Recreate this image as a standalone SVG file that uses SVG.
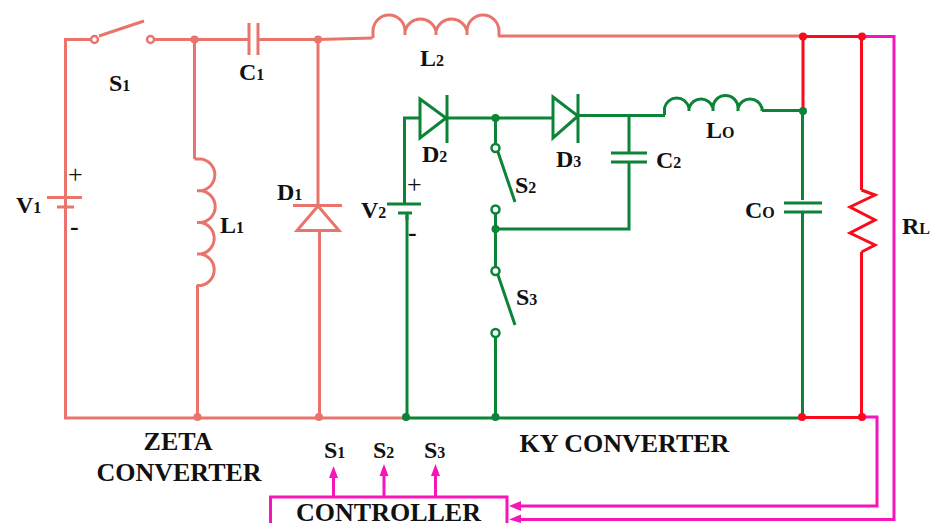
<svg xmlns="http://www.w3.org/2000/svg" width="932" height="523" viewBox="0 0 932 523">
<style>
text{font-family:"Liberation Serif","Times New Roman",serif;font-weight:bold;fill:#111}
.lb{font-size:24px}.sub{font-size:16px}.hd{font-size:26px}.pl{font-size:26px;font-weight:normal}
.w{fill:none;stroke-width:3;stroke-linejoin:miter}
.z{stroke:#e8746c}.g{stroke:#0b8437}.r{stroke:#fb0a1c}.m{stroke:#f515b8}
.zf{fill:#e8746c}.gf{fill:#0b8437}.rf{fill:#fb0a1c}.mf{fill:#f515b8}
.o{fill:#fff;stroke-width:2.5}
</style>
<rect width="932" height="523" fill="#fff"/>
<g id="connectors">
<path class="w z" d="M91 39.500H65.500V418H405M155 39.500H249M258 39.500H318L372.500 38M194.500 39.500V159M318 39V205M319.500 231V418M197.500 285V418M498 36H803"/>
<path class="w z" d="M99 36L144 21"/>
<path class="w g" d="M406 418H802M404.500 192V118H420M447 118H552M579 115.500H665M495.500 118V144M495.500 214V267M495.500 338V418M407 215V418M629 115V152M629 163V229H495M762 110.500H804M802.500 111V200M802.500 212V416"/>
<path class="w r" d="M803 36.500H862M803 37V111M802 417.500H862M861.500 37V190M861.500 252V417"/>
<path class="w m" d="M862 36.500H894V519.500H519M862 417H877V506H519"/>
</g>
<g id="V1"><path class="w z" d="M47 197.500H82M57 207H74M65.500 207V230"/>
<text x="68" y="183" class="pl">+</text><text x="70" y="235" class="pl" style="font-weight:bold">-</text>
<text x="16" y="213" class="lb">V<tspan class="sub">1</tspan></text></g>
<g id="S1"><circle class="o z" cx="94.500" cy="39.500" r="3.500"/><circle class="o z" cx="150.500" cy="39.500" r="3.500"/><text x="109" y="91" class="lb">S<tspan class="sub">1</tspan></text></g>
<g id="C1"><path class="w z" d="M249 23V55M258 23V55"/><text x="239" y="80" class="lb">C<tspan class="sub">1</tspan></text></g>
<g id="L1"><path class="w z" d="M194.500 159H201A16 16 0 0 1 201 190.700H197H201A16 16 0 0 1 201 222.500H197H201A16 16 0 0 1 201 254H197H201A16 16 0 0 1 201 285.500H197"/><text x="220" y="233" class="lb">L<tspan class="sub">1</tspan></text></g>
<g id="D1"><path class="w z" d="M293 205.500H342M318 206L297 230.500H339Z"/><text x="277" y="200" class="lb">D<tspan class="sub">1</tspan></text></g>
<g id="L2"><path class="w z" d="M373 38V31A16 16 0 0 1 405 31V35V31A16 16 0 0 1 436 31V35V31A16 16 0 0 1 467 31V35V31A16 16 0 0 1 499 31V36"/><text x="420" y="66" class="lb">L<tspan class="sub">2</tspan></text></g>
<g id="D2"><path class="w g" d="M420 99L446 118L420 138ZM447 95V143"/><text x="422" y="162" class="lb">D<tspan class="sub">2</tspan></text></g>
<g id="D3"><path class="w g" d="M553 97L578 116L553 138ZM578 94V143"/><text x="556" y="167" class="lb">D<tspan class="sub">3</tspan></text></g>
<g id="V2"><path class="w g" d="M387 204H421M404.500 192V204M398 213H412M407 213V220"/><text x="407" y="193" class="pl">+</text><text x="408" y="241" class="pl" style="font-weight:bold">-</text><text x="361" y="218" class="lb">V<tspan class="sub">2</tspan></text></g>
<g id="S2"><circle class="o g" cx="495.500" cy="148" r="4"/><circle class="o g" cx="495.500" cy="209.500" r="4"/><path class="w g" d="M498 152L515 202"/><text x="515" y="193" class="lb">S<tspan class="sub">2</tspan></text></g>
<g id="S3"><circle class="o g" cx="495.500" cy="271" r="4"/><circle class="o g" cx="495.500" cy="333" r="4"/><path class="w g" d="M498 275L515 325"/><text x="516" y="305" class="lb">S<tspan class="sub">3</tspan></text></g>
<g id="C2"><path class="w g" d="M611 153H647M611 162H647"/><text x="656" y="168" class="lb">C<tspan class="sub">2</tspan></text></g>
<g id="LO"><path class="w g" d="M664.500 115V108A12.500 12.500 0 0 1 689 108V111V108A12.500 12.500 0 0 1 713 108V111V108A12.500 12.500 0 0 1 738 108V111V108A12.500 12.500 0 0 1 762 108V111"/><text x="706" y="138" class="lb">L<tspan class="sub">O</tspan></text></g>
<g id="CO"><path class="w g" d="M784 203H822M784 212H822"/><text x="745" y="218" class="lb">C<tspan class="sub">O</tspan></text></g>
<g id="RL"><path class="w r" d="M861.500 190L875 195L850 207L875 220L850 233L875 245L861.500 252"/><text x="902" y="234" class="lb">R<tspan class="sub">L</tspan></text></g>
<g id="junctions">
<circle class="zf" cx="194.500" cy="39.500" r="4"/><circle class="zf" cx="318" cy="39.500" r="4"/><circle class="zf" cx="197.500" cy="417" r="4"/><circle class="zf" cx="319" cy="417" r="4"/>
<circle class="gf" cx="406" cy="417" r="4"/><circle class="gf" cx="495.500" cy="118" r="4"/><circle class="gf" cx="495.500" cy="229" r="4"/><circle class="gf" cx="495.500" cy="417" r="4"/><circle class="gf" cx="803" cy="111" r="4"/>
<circle class="rf" cx="803" cy="36.500" r="4"/><circle class="rf" cx="862" cy="36.500" r="4"/><circle class="rf" cx="802" cy="417" r="4"/><circle class="rf" cx="862" cy="417" r="4"/>
</g>
<g id="controller">
<path class="w m" d="M270.500 523V497H507V523"/>
<path class="w m" d="M333.500 497V476M384 497V476M435.500 497V476"/>
<path class="mf" d="M333.500 466L329 478H338ZM384 464L379.500 476H388.500ZM435.500 464L431 476H440ZM509 506L521 501V511ZM509 519.500L521 514.500V523Z"/>
<text x="388.500" y="521" class="hd" text-anchor="middle">CONTROLLER</text>
<text x="324" y="458" class="lb">S<tspan class="sub">1</tspan></text><text x="373" y="458" class="lb">S<tspan class="sub">2</tspan></text><text x="424" y="458" class="lb">S<tspan class="sub">3</tspan></text>
</g>
<g id="labels">
<text x="178" y="450" class="hd" text-anchor="middle">ZETA</text>
<text x="179" y="481" class="hd" text-anchor="middle">CONVERTER</text>
<text x="624.500" y="452" class="hd" text-anchor="middle">KY CONVERTER</text>
</g>
</svg>
